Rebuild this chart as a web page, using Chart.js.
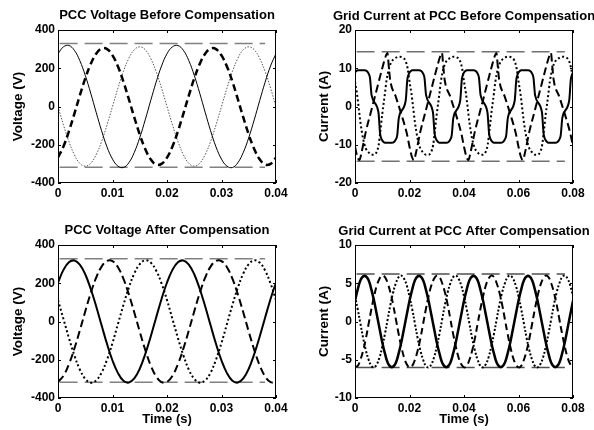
<!DOCTYPE html>
<html>
<head>
<meta charset="utf-8">
<script src="https://cdn.jsdelivr.net/npm/chart.js@4.4.1/dist/chart.umd.min.js"></script>
<style>
  html, body { margin: 0; padding: 0; background: #fff; }
  body { width: 594px; height: 430px; position: relative; overflow: hidden; }
  canvas { position: absolute; width: 334px; height: 215px; }
</style>
</head>
<body>
<canvas id="vBefore" width="334" height="215" style="left:0;top:0"></canvas>
<canvas id="iBefore" width="334" height="215" style="left:297px;top:0"></canvas>
<canvas id="vAfter" width="334" height="215" style="left:0;top:215px"></canvas>
<canvas id="iAfter" width="334" height="215" style="left:297px;top:215px"></canvas>
<script>
// time grids (ms)
const tV = [0,1,2,3,4,5,6,7,8,9,10,11,12,13,14,15,16,17,18,19,20,21,22,23,24,25,26,27,28,29,30,31,32,33,34,35,36,37,38,39,40];
const tI = [0,1,2,3,4,5,6,7,8,9,10,11,12,13,14,15,16,17,18,19,20,21,22,23,24,25,26,27,28,29,30,31,32,33,34,35,36,37,38,39,40,
            41,42,43,44,45,46,47,48,49,50,51,52,53,54,55,56,57,58,59,60,61,62,63,64,65,66,67,68,69,70,71,72,73,74,75,76,77,78,79,80];

// PCC voltage before compensation (V)
const vaBefore = [276,312,319,294,240,163,70,-30,-127,-212,-275,-312,-319,-294,-240,-163,-70,30,127,212,
                  276,312,319,294,240,163,70,-30,-127,-212,-275,-312,-319,-294,-240,-163,-70,30,127,212,276];
const vbBefore = [-267,-209,-130,-38,57,147,222,276,303,300,267,209,130,38,-57,-147,-222,-276,-303,-300,
                  -267,-209,-130,-38,57,147,222,276,303,300,267,209,130,38,-57,-147,-222,-276,-303,-300,-267];
const vcBefore = [0,-96,-183,-252,-297,-312,-297,-252,-183,-96,0,96,183,252,297,312,297,252,183,96,
                  0,-96,-183,-252,-297,-312,-297,-252,-183,-96,0,96,183,252,297,312,297,252,183,96,0];

// PCC voltage after compensation (V)
const vaAfter = [204,270,310,319,298,247,171,80,-20,-118,-204,-270,-310,-319,-298,-247,-171,-80,20,118,
                 204,270,310,319,298,247,171,80,-20,-118,-204,-270,-310,-319,-298,-247,-171,-80,20,118,204];
const vbAfter = [-316,-284,-224,-142,-47,53,148,229,287,317,316,284,224,142,47,-53,-148,-229,-287,-317,
                 -316,-284,-224,-142,-47,53,148,229,287,317,316,284,224,142,47,-53,-148,-229,-287,-317,-316];
const vcAfter = [112,13,-86,-177,-251,-300,-320,-308,-267,-199,-112,-13,86,177,251,300,320,308,267,199,
                 112,13,-86,-177,-251,-300,-320,-308,-267,-199,-112,-13,86,177,251,300,320,308,267,199,112];

// grid current before compensation (A), read at breakpoints (ms)
const iaBeforeT = [0,0.5,1,3.5,4.3,5,5.5,6.1,8.6,9.2,9.8,10.5,11,13.5,14.3,15,15.5,16.1,18.6,19.2,19.8,
                   20,20.5,21,23.5,24.3,25,25.5,26.1,28.6,29.2,29.8,30.5,31,33.5,34.3,35,35.5,36.1,38.6,39.2,39.8,
                   40,40.5,41,43.5,44.3,45,45.5,46.1,48.6,49.2,49.8,50.5,51,53.5,54.3,55,55.5,56.1,58.6,59.2,59.8,
                   60,60.5,61,63.5,64.3,65,65.5,66.1,68.6,69.2,69.8,70.5,71,73.5,74.3,75,75.5,76.1,78.6,79.2,79.8,80];
const iaBefore = [8.9,9.3,9.5,9.5,9.3,8.6,7.5,2.9,-1.5,-7,-8.6,-9.3,-9.5,-9.5,-9.3,-8.6,-7.5,-2.9,1.5,7,8.6,
                  8.9,9.3,9.5,9.5,9.3,8.6,7.5,2.9,-1.5,-7,-8.6,-9.3,-9.5,-9.5,-9.3,-8.6,-7.5,-2.9,1.5,7,8.6,
                  8.9,9.3,9.5,9.5,9.3,8.6,7.5,2.9,-1.5,-7,-8.6,-9.3,-9.5,-9.5,-9.3,-8.6,-7.5,-2.9,1.5,7,8.6,
                  8.9,9.3,9.5,9.5,9.3,8.6,7.5,2.9,-1.5,-7,-8.6,-9.3,-9.5,-9.5,-9.3,-8.6,-7.5,-2.9,1.5,7,8.6,8.9];
const ibBeforeT = [0,0.9,1.6,2.4,4,6,8,10,11.3,11.9,12.4,12.9,15,17,19,
                   20,20.9,21.6,22.4,24,26,28,30,31.3,31.9,32.4,32.9,35,37,39,
                   40,40.9,41.6,42.4,44,46,48,50,51.3,51.9,52.4,52.9,55,57,59,
                   60,60.9,61.6,62.4,64,66,68,70,71.3,71.9,72.4,72.9,75,77,79,80];
const ibBefore = [-10.5,-13.2,-14,-12,-6.5,-1,4.5,10,13.2,14,10.5,7,2.5,-2,-7,
                  -10.5,-13.2,-14,-12,-6.5,-1,4.5,10,13.2,14,10.5,7,2.5,-2,-7,
                  -10.5,-13.2,-14,-12,-6.5,-1,4.5,10,13.2,14,10.5,7,2.5,-2,-7,
                  -10.5,-13.2,-14,-12,-6.5,-1,4.5,10,13.2,14,10.5,7,2.5,-2,-7,-10.5];
const icBeforeT = [0,0.7,1.3,2,3,4,5,6,7,8,8.7,9.3,10,11,11.5,12.5,13.5,14.5,16,17.5,18.5,19.3,
                   20,20.7,21.3,22,23,24,25,26,27,28,28.7,29.3,30,31,31.5,32.5,33.5,34.5,36,37.5,38.5,39.3,
                   40,40.7,41.3,42,43,44,45,46,47,48,48.7,49.3,50,51,51.5,52.5,53.5,54.5,56,57.5,58.5,59.3,
                   60,60.7,61.3,62,63,64,65,66,67,68,68.7,69.3,70,71,71.5,72.5,73.5,74.5,76,77.5,78.5,79.3,80];
const icBefore = [6.5,3.5,0,-4.2,-8.5,-11,-12,-12.6,-12.6,-11.8,-10,-6.5,-2,3.5,6.5,10,11.8,12.5,13,12.8,12,10,
                  6.5,3.5,0,-4.2,-8.5,-11,-12,-12.6,-12.6,-11.8,-10,-6.5,-2,3.5,6.5,10,11.8,12.5,13,12.8,12,10,
                  6.5,3.5,0,-4.2,-8.5,-11,-12,-12.6,-12.6,-11.8,-10,-6.5,-2,3.5,6.5,10,11.8,12.5,13,12.8,12,10,
                  6.5,3.5,0,-4.2,-8.5,-11,-12,-12.6,-12.6,-11.8,-10,-6.5,-2,3.5,6.5,10,11.8,12.5,13,12.8,12,10,6.5];

// grid current after compensation (A)
const iaAfter = [2.7,4.2,5.4,5.9,5.9,5.4,4.2,2.7,0.9,-0.9,-2.7,-4.2,-5.4,-5.9,-5.9,-5.4,-4.2,-2.7,-0.9,0.9,
                 2.7,4.2,5.4,5.9,5.9,5.4,4.2,2.7,0.9,-0.9,-2.7,-4.2,-5.4,-5.9,-5.9,-5.4,-4.2,-2.7,-0.9,0.9,
                 2.7,4.2,5.4,5.9,5.9,5.4,4.2,2.7,0.9,-0.9,-2.7,-4.2,-5.4,-5.9,-5.9,-5.4,-4.2,-2.7,-0.9,0.9,
                 2.7,4.2,5.4,5.9,5.9,5.4,4.2,2.7,0.9,-0.9,-2.7,-4.2,-5.4,-5.9,-5.9,-5.4,-4.2,-2.7,-0.9,0.9,2.7];
const ibAfter = [-6,-5.8,-5,-3.8,-2.2,-0.3,1.6,3.3,4.7,5.6,6,5.8,5,3.8,2.2,0.3,-1.6,-3.3,-4.7,-5.6,
                 -6,-5.8,-5,-3.8,-2.2,-0.3,1.6,3.3,4.7,5.6,6,5.8,5,3.8,2.2,0.3,-1.6,-3.3,-4.7,-5.6,
                 -6,-5.8,-5,-3.8,-2.2,-0.3,1.6,3.3,4.7,5.6,6,5.8,5,3.8,2.2,0.3,-1.6,-3.3,-4.7,-5.6,
                 -6,-5.8,-5,-3.8,-2.2,-0.3,1.6,3.3,4.7,5.6,6,5.8,5,3.8,2.2,0.3,-1.6,-3.3,-4.7,-5.6,-6];
const icAfter = [3.3,1.6,-0.3,-2.2,-3.8,-5,-5.8,-6,-5.6,-4.7,-3.3,-1.6,0.3,2.2,3.8,5,5.8,6,5.6,4.7,
                 3.3,1.6,-0.3,-2.2,-3.8,-5,-5.8,-6,-5.6,-4.7,-3.3,-1.6,0.3,2.2,3.8,5,5.8,6,5.6,4.7,
                 3.3,1.6,-0.3,-2.2,-3.8,-5,-5.8,-6,-5.6,-4.7,-3.3,-1.6,0.3,2.2,3.8,5,5.8,6,5.6,4.7,
                 3.3,1.6,-0.3,-2.2,-3.8,-5,-5.8,-6,-5.6,-4.7,-3.3,-1.6,0.3,2.2,3.8,5,5.8,6,5.6,4.7,3.3];

// peak reference levels and their extent (s)
const vBeforeRef = [330, -318];
const vAfterRef = [328, -318];
const iBeforeRef = [14.3, -14.3];
const iAfterRef = [6.2, -6.0];
const refSpanV = [0.0003, 0.038];
const refSpanI = [0.0006, 0.077];

// tick labels
const xTicksV = [0, 0.01, 0.02, 0.03, 0.04];
const xTicksI = [0, 0.02, 0.04, 0.06, 0.08];
const yTicksV = [-400, -200, 0, 200, 400];
const yTicksIBefore = [-20, -10, 0, 10, 20];
const yTicksIAfter = [-10, -5, 0, 5, 10];

const FONT = "'Liberation Sans', Arial, sans-serif";

const pts = (times, vals) => times.map((t, i) => ({ x: t / 1000, y: vals[i] }));

const wave = (data, style) => Object.assign({
    data: data,
    borderColor: '#000',
    borderWidth: 2,
    pointRadius: 0,
    fill: false,
    tension: 0.4
}, style);

const refLines = (levels, span, color) => levels.map(v => ({
    data: [{ x: span[0], y: v }, { x: span[1], y: v }],
    borderColor: color,
    borderWidth: 1.5,
    borderDash: [18, 7],
    pointRadius: 0,
    tension: 0
}));

// box round the plot area with small inward ticks
const boxPlugin = {
    id: 'box',
    afterDatasetsDraw(chart) {
        const { ctx, chartArea: a, scales } = chart;
        ctx.save();
        ctx.strokeStyle = '#000';
        ctx.lineWidth = 1;
        ctx.strokeRect(a.left + 0.5, a.top + 0.5, a.right - a.left - 1, a.bottom - a.top - 1);
        ctx.beginPath();
        scales.x.ticks.forEach(t => {
            const px = Math.round(scales.x.getPixelForValue(t.value)) + 0.5;
            ctx.moveTo(px, a.bottom); ctx.lineTo(px, a.bottom - 3);
            ctx.moveTo(px, a.top); ctx.lineTo(px, a.top + 3);
        });
        scales.y.ticks.forEach(t => {
            const py = Math.round(scales.y.getPixelForValue(t.value)) + 0.5;
            ctx.moveTo(a.left, py); ctx.lineTo(a.left + 3, py);
            ctx.moveTo(a.right, py); ctx.lineTo(a.right - 3, py);
        });
        ctx.stroke();
        ctx.restore();
    }
};

const makeChart = (id, o) => {
    const ctx = document.getElementById(id).getContext('2d');
    return new Chart(ctx, {
        type: 'line',
        data: { datasets: o.datasets },
        options: {
            responsive: false,
            animation: false,
            events: [],
            layout: { padding: 0 },
            plugins: {
                legend: { display: false },
                tooltip: { enabled: false },
                title: {
                    display: true,
                    text: o.title,
                    color: '#000',
                    font: { family: FONT, size: 13, weight: 'bold' },
                    padding: { top: o.titleTop, bottom: 14.4 - o.titleTop }
                }
            },
            scales: {
                x: {
                    type: 'linear',
                    min: 0,
                    max: o.xTicks[o.xTicks.length - 1],
                    grid: { display: false, drawTicks: false },
                    border: { display: false },
                    afterBuildTicks: s => { s.ticks = o.xTicks.map(v => ({ value: v })); },
                    afterFit: s => { s.height = 32; },
                    ticks: {
                        autoSkip: false,
                        maxRotation: 0,
                        padding: 3,
                        color: '#000',
                        font: { family: FONT, size: 12, weight: 'bold' },
                        callback: v => String(v)
                    },
                    title: {
                        display: !!o.xTitle,
                        text: o.xTitle || '',
                        color: '#000',
                        font: { family: FONT, size: 13, weight: 'bold' },
                        padding: { top: 0, bottom: 2.5 }
                    }
                },
                y: {
                    type: 'linear',
                    min: o.yTicks[0],
                    max: o.yTicks[o.yTicks.length - 1],
                    grid: { display: false, drawTicks: false },
                    border: { display: false },
                    afterBuildTicks: s => { s.ticks = o.yTicks.map(v => ({ value: v })); },
                    afterFit: s => { s.width = 58; },
                    ticks: {
                        padding: 3,
                        color: '#000',
                        font: { family: FONT, size: 12, weight: 'bold' },
                        callback: v => String(v)
                    },
                    title: {
                        display: true,
                        text: o.yTitle,
                        color: '#000',
                        font: { family: FONT, size: 13.5, weight: 'bold' },
                        padding: { top: o.yTitlePad, bottom: 0 }
                    }
                },
                // empty right-hand margin so the title centres over the plot box
                yr: {
                    type: 'linear',
                    position: 'right',
                    grid: { display: false, drawTicks: false },
                    border: { display: false },
                    ticks: { display: false },
                    afterFit: s => { s.width = 58; }
                }
            }
        },
        plugins: [boxPlugin]
    });
};

makeChart('vBefore', {
    title: 'PCC Voltage Before Compensation',
    titleTop: 7.2,
    yTitle: 'Voltage (V)',
    yTitlePad: 10,
    xTicks: xTicksV,
    yTicks: yTicksV,
    datasets: [
        wave(pts(tV, vaBefore), { borderWidth: 1 }),
        wave(pts(tV, vbBefore), { borderWidth: 2.5, borderDash: [7, 4] }),
        wave(pts(tV, vcBefore), { borderWidth: 1, borderColor: '#555', borderDash: [1.5, 1.5] })
    ].concat(refLines(vBeforeRef, refSpanV, '#808080'))
});

makeChart('iBefore', {
    title: 'Grid Current at PCC Before Compensation',
    titleTop: 9,
    yTitle: 'Current (A)',
    yTitlePad: 19,
    xTicks: xTicksI,
    yTicks: yTicksIBefore,
    datasets: [
        wave(pts(iaBeforeT, iaBefore), { cubicInterpolationMode: 'monotone' }),
        wave(pts(ibBeforeT, ibBefore), { cubicInterpolationMode: 'monotone', borderDash: [8, 4] }),
        wave(pts(icBeforeT, icBefore), { cubicInterpolationMode: 'monotone', borderDash: [2, 2.5] })
    ].concat(refLines(iBeforeRef, refSpanI, '#707070'))
});

makeChart('vAfter', {
    title: 'PCC Voltage After Compensation',
    titleTop: 7.2,
    yTitle: 'Voltage (V)',
    yTitlePad: 10,
    xTitle: 'Time (s)',
    xTicks: xTicksV,
    yTicks: yTicksV,
    datasets: [
        wave(pts(tV, vaAfter), {}),
        wave(pts(tV, vbAfter), { borderDash: [8, 4] }),
        wave(pts(tV, vcAfter), { borderDash: [2, 2.5] })
    ].concat(refLines(vAfterRef, refSpanV, '#808080'))
});

makeChart('iAfter', {
    title: 'Grid Current at PCC After Compensation',
    titleTop: 8.5,
    yTitle: 'Current (A)',
    yTitlePad: 19,
    xTitle: 'Time (s)',
    xTicks: xTicksI,
    yTicks: yTicksIAfter,
    datasets: [
        wave(pts(tI, iaAfter), { borderWidth: 2.5 }),
        wave(pts(tI, ibAfter), { borderDash: [7, 4] }),
        wave(pts(tI, icAfter), { borderDash: [2, 2] })
    ].concat(refLines(iAfterRef, refSpanI, '#505050'))
});
</script>
</body>
</html>
